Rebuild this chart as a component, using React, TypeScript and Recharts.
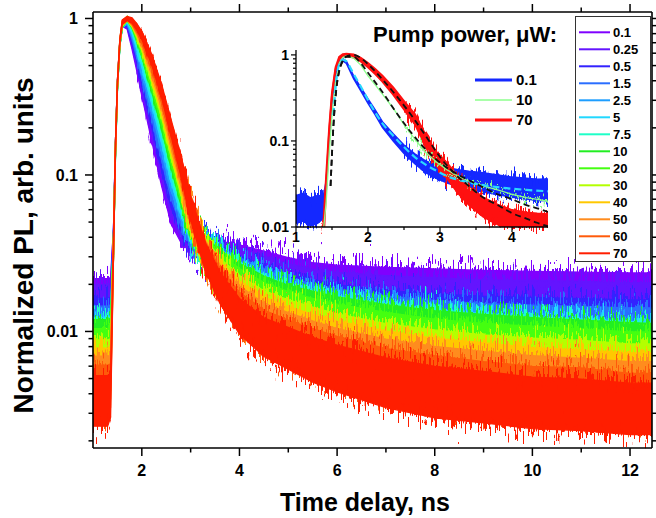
import { ComposedChart, Area, Line, XAxis, YAxis } from 'recharts'

const FONT = '"Liberation Sans", Arial, Helvetica, sans-serif'

// time grid of the main panel (ns)
const T = [1.0, 1.15, 1.3, 1.36, 1.42, 1.46, 1.5, 1.55, 1.6, 1.7, 1.8, 1.9, 2.0, 2.2, 2.4, 2.6, 2.8, 3.0, 3.3, 3.6, 4.0, 4.5, 5.0, 5.5, 6.0, 7.0, 8.0, 9.0, 10.0, 11.0, 12.0, 12.45]

// noise band: ratio of the band edge to the trace
const SPREAD = [1.45, 1.45, 1.45, 1.38, 1.15, 1.08, 1.05, 1.03, 1.03, 1.03, 1.04, 1.05, 1.06, 1.08, 1.1, 1.13, 1.16, 1.19, 1.23, 1.26, 1.3, 1.33, 1.36, 1.39, 1.41, 1.44, 1.46, 1.46, 1.46, 1.46, 1.46, 1.46]

// normalized PL traces per pump power (uW)
const pl0_1 = [0.015, 0.015, 0.015, 0.016, 0.04, 0.15, 0.38, 0.7, 0.92, 0.88, 0.66, 0.48, 0.34, 0.18, 0.095, 0.055, 0.043, 0.038, 0.033, 0.03, 0.0275, 0.0245, 0.0218, 0.0198, 0.0188, 0.0178, 0.0172, 0.0168, 0.0166, 0.0164, 0.0162, 0.0162]
const pl0_25 = [0.0137, 0.0137, 0.0137, 0.0147, 0.04, 0.15, 0.38, 0.7, 0.92, 0.9, 0.69, 0.51, 0.37, 0.2, 0.108, 0.062, 0.047, 0.039, 0.033, 0.0294, 0.026, 0.0228, 0.0199, 0.018, 0.0169, 0.0158, 0.0151, 0.0146, 0.0145, 0.0143, 0.014, 0.014]
const pl0_5 = [0.0112, 0.0112, 0.0112, 0.012, 0.039, 0.15, 0.37, 0.7, 0.91, 0.92, 0.72, 0.55, 0.4, 0.22, 0.122, 0.07, 0.051, 0.041, 0.033, 0.0284, 0.0235, 0.0198, 0.017, 0.0153, 0.0141, 0.0127, 0.0119, 0.0115, 0.0113, 0.0111, 0.0109, 0.0109]
const pl1_5 = [0.01, 0.01, 0.01, 0.0107, 0.038, 0.145, 0.37, 0.69, 0.91, 0.94, 0.76, 0.58, 0.44, 0.25, 0.139, 0.08, 0.055, 0.042, 0.033, 0.0276, 0.0228, 0.019, 0.0162, 0.0145, 0.0132, 0.0117, 0.0108, 0.0103, 0.0101, 0.0099, 0.0097, 0.0097]
const pl2_5 = [0.0086, 0.0086, 0.0086, 0.0092, 0.037, 0.145, 0.37, 0.69, 0.9, 0.95, 0.79, 0.62, 0.48, 0.28, 0.157, 0.09, 0.06, 0.044, 0.033, 0.0268, 0.0216, 0.0176, 0.015, 0.0134, 0.0121, 0.0106, 0.0095, 0.009, 0.0086, 0.0083, 0.008, 0.0079]
const pl5 = [0.0084, 0.0084, 0.0084, 0.009, 0.036, 0.14, 0.36, 0.69, 0.9, 0.97, 0.83, 0.66, 0.52, 0.31, 0.178, 0.102, 0.065, 0.045, 0.033, 0.0265, 0.0212, 0.0172, 0.0146, 0.0131, 0.0119, 0.0104, 0.0094, 0.0089, 0.0085, 0.0082, 0.0079, 0.0078]
const pl7_5 = [0.0083, 0.0083, 0.0083, 0.0089, 0.035, 0.14, 0.36, 0.68, 0.9, 0.99, 0.87, 0.7, 0.56, 0.34, 0.199, 0.113, 0.07, 0.047, 0.033, 0.0262, 0.021, 0.017, 0.0145, 0.013, 0.0118, 0.0103, 0.0093, 0.0088, 0.0084, 0.0081, 0.0078, 0.0077]
const pl10 = [0.0082, 0.0082, 0.0082, 0.0088, 0.035, 0.14, 0.36, 0.68, 0.9, 1.0, 0.9, 0.74, 0.6, 0.37, 0.22, 0.125, 0.075, 0.048, 0.033, 0.026, 0.021, 0.017, 0.0145, 0.013, 0.0118, 0.0103, 0.0093, 0.0088, 0.0084, 0.0081, 0.0078, 0.0077]
const pl20 = [0.0072, 0.0072, 0.0072, 0.0077, 0.035, 0.145, 0.37, 0.69, 0.91, 1.0, 0.91, 0.76, 0.62, 0.39, 0.236, 0.134, 0.08, 0.05, 0.0325, 0.0248, 0.0194, 0.0155, 0.0132, 0.0117, 0.0106, 0.0092, 0.0082, 0.0077, 0.0074, 0.0071, 0.0068, 0.0068]
const pl30 = [0.0061, 0.0061, 0.0061, 0.0065, 0.035, 0.145, 0.37, 0.7, 0.92, 1.0, 0.92, 0.79, 0.66, 0.42, 0.259, 0.147, 0.087, 0.052, 0.032, 0.0233, 0.0175, 0.0137, 0.0117, 0.0103, 0.0092, 0.0078, 0.007, 0.0065, 0.0062, 0.006, 0.0057, 0.0057]
const pl40 = [0.0054, 0.0054, 0.0054, 0.0058, 0.035, 0.15, 0.37, 0.71, 0.93, 1.0, 0.93, 0.81, 0.68, 0.45, 0.277, 0.158, 0.093, 0.054, 0.0315, 0.0222, 0.0162, 0.0125, 0.0106, 0.0093, 0.0083, 0.007, 0.0062, 0.0058, 0.0054, 0.0052, 0.005, 0.005]
const pl50 = [0.0048, 0.0048, 0.0048, 0.0051, 0.035, 0.15, 0.38, 0.71, 0.94, 1.0, 0.94, 0.83, 0.71, 0.48, 0.297, 0.17, 0.099, 0.057, 0.031, 0.0212, 0.015, 0.0114, 0.0097, 0.0084, 0.0074, 0.0062, 0.0055, 0.0051, 0.0048, 0.0046, 0.0044, 0.0044]
const pl60 = [0.0042, 0.0042, 0.0042, 0.0045, 0.035, 0.15, 0.38, 0.72, 0.94, 1.0, 0.95, 0.85, 0.74, 0.51, 0.322, 0.184, 0.107, 0.059, 0.0305, 0.0201, 0.0137, 0.0103, 0.0087, 0.0075, 0.0066, 0.0054, 0.0048, 0.0044, 0.0041, 0.004, 0.0037, 0.0037]
const pl70 = [0.0036, 0.0036, 0.0036, 0.0039, 0.035, 0.15, 0.38, 0.72, 0.95, 1.0, 0.97, 0.88, 0.78, 0.55, 0.35, 0.2, 0.115, 0.062, 0.03, 0.019, 0.0125, 0.0092, 0.0078, 0.0066, 0.0058, 0.0047, 0.0041, 0.0038, 0.0035, 0.0034, 0.0032, 0.0032]

const POWERS = ['0.1', '0.25', '0.5', '1.5', '2.5', '5', '7.5', '10', '20', '30', '40', '50', '60', '70']
const TRACES = [pl0_1, pl0_25, pl0_5, pl1_5, pl2_5, pl5, pl7_5, pl10, pl20, pl30, pl40, pl50, pl60, pl70]
const COLORS = ['#8000ff', '#6414ff', '#3322ff', '#2a6eff', '#1e9eff', '#22d8ff', '#1effc8', '#22ee22', '#44ff10', '#b4ff00', '#ffc800', '#ff8c1e', '#ff5a0a', '#ff1e00']

const X_TICKS = [2, 3, 4, 5, 6, 7, 8, 9, 10, 11, 12]
const X_MAJOR = [2, 4, 6, 8, 10, 12]
const Y_TICKS = [0.002, 0.003, 0.004, 0.005, 0.006, 0.007, 0.008, 0.009, 0.01, 0.02, 0.03, 0.04, 0.05, 0.06, 0.07, 0.08, 0.09, 0.1, 0.2, 0.3, 0.4, 0.5, 0.6, 0.7, 0.8, 0.9, 1]
const Y_MAJOR = [0.01, 0.1, 1]

// inset: three powers plus fits
const TI = [1.0, 1.1, 1.2, 1.3, 1.38, 1.42, 1.46, 1.5, 1.55, 1.6, 1.65, 1.7, 1.8, 1.9, 2.0, 2.1, 2.2, 2.35, 2.5, 2.65, 2.8, 2.95, 3.1, 3.25, 3.4, 3.6, 3.8, 4.0, 4.2, 4.35, 4.5]
const SPREAD_IN = [1.45, 1.45, 1.45, 1.45, 1.35, 1.15, 1.06, 1.04, 1.03, 1.03, 1.03, 1.03, 1.04, 1.05, 1.06, 1.07, 1.08, 1.1, 1.12, 1.14, 1.17, 1.2, 1.23, 1.25, 1.27, 1.29, 1.3, 1.31, 1.32, 1.33, 1.34]
const in0_1 = [0.016, 0.017, 0.015, 0.016, 0.017, 0.03, 0.1, 0.3, 0.6, 0.82, 0.88, 0.82, 0.55, 0.4, 0.29, 0.215, 0.155, 0.11, 0.08, 0.062, 0.05, 0.044, 0.04, 0.037, 0.035, 0.033, 0.031, 0.029, 0.028, 0.027, 0.027]
const in10 = [0.008, 0.008, 0.008, 0.008, 0.009, 0.02, 0.07, 0.2, 0.5, 0.8, 0.93, 0.98, 0.92, 0.76, 0.57, 0.45, 0.35, 0.24, 0.155, 0.105, 0.074, 0.057, 0.046, 0.039, 0.034, 0.03, 0.027, 0.024, 0.022, 0.021, 0.02]
const in70 = [0.005, 0.005, 0.005, 0.005, 0.008, 0.035, 0.13, 0.35, 0.7, 0.92, 0.99, 1.0, 0.97, 0.88, 0.76, 0.64, 0.53, 0.38, 0.26, 0.18, 0.1, 0.062, 0.045, 0.031, 0.023, 0.017, 0.014, 0.012, 0.0112, 0.0108, 0.0105]

const FIT01_T = [1.52, 1.56, 1.6, 1.65, 1.7, 1.8, 1.9, 2.0, 2.2, 2.35, 2.5, 2.65, 2.8, 2.95, 3.1, 3.4, 3.8, 4.2, 4.5]
const fit0_1 = [0.2, 0.5, 0.78, 0.88, 0.84, 0.6, 0.43, 0.3, 0.16, 0.115, 0.085, 0.065, 0.053, 0.045, 0.039, 0.033, 0.029, 0.027, 0.026]
const FIT_T = [1.48, 1.52, 1.56, 1.6, 1.65, 1.7, 1.8, 1.9, 2.0, 2.2, 2.4, 2.6, 2.8, 3.0, 3.2, 3.4, 3.6, 3.8, 4.0, 4.2, 4.35, 4.5]
const fit10 = [0.03, 0.15, 0.4, 0.65, 0.85, 0.95, 0.95, 0.8, 0.62, 0.37, 0.21, 0.125, 0.08, 0.056, 0.043, 0.035, 0.029, 0.024, 0.021, 0.018, 0.0165, 0.015]
const fit70 = [0.03, 0.15, 0.4, 0.65, 0.85, 0.96, 1.0, 0.92, 0.78, 0.52, 0.33, 0.2, 0.115, 0.065, 0.042, 0.03, 0.022, 0.018, 0.0145, 0.0125, 0.0112, 0.0102]

const IN_X_TICKS = [1, 1.5, 2, 2.5, 3, 3.5, 4]
const IN_X_MAJOR = [1, 2, 3, 4]
const IN_Y_TICKS = [0.01, 0.02, 0.03, 0.04, 0.05, 0.06, 0.07, 0.08, 0.09, 0.1, 0.2, 0.3, 0.4, 0.5, 0.6, 0.7, 0.8, 0.9, 1]

const isIn = (list: number[], v: number) => list.some(m => Math.abs(m - v) < m * 1e-6)

// noisy parts of the traces (before the rise and the slow tail) get a jagged edge filter
const noisyMain = (i: number) => i <= 3 || i >= 16
const noisyDecay = (i: number) => i >= 11 && i <= 17
const noisyInset = (i: number) => i <= 4 || i >= 18

const mainData = T.map((t, i) => {
  const row: Record<string, number | number[] | null> = { t }
  TRACES.forEach((s, k) => {
    const band = [s[i] / SPREAD[i], s[i] * SPREAD[i]]
    row['r' + k] = band
    row['q' + k] = noisyMain(i) ? band : null
    row['m' + k] = noisyDecay(i) ? band : null
  })
  return row
})

const insetData = TI.map((t, i) => {
  const blue = [in0_1[i] / SPREAD_IN[i], in0_1[i] * SPREAD_IN[i]]
  const red = [in70[i] / SPREAD_IN[i], in70[i] * SPREAD_IN[i]]
  return {
    t,
    blue,
    red,
    green: in10[i],
    qBlue: noisyInset(i) ? blue : null,
    qRed: noisyInset(i) ? red : null,
    qGreen: noisyInset(i) ? in10[i] : null,
  }
})
const fit01Data = FIT01_T.map((t, i) => ({ t, v: fit0_1[i] }))
const fit10Data = FIT_T.map((t, i) => ({ t, v: fit10[i] }))
const fit70Data = FIT_T.map((t, i) => ({ t, v: fit70[i] }))

function BottomTick(props: any) {
  const { x, y, payload } = props
  const major = isIn(X_MAJOR, payload.value)
  return (
    <g>
      <line x1={x} x2={x} y1={y} y2={y + (major ? 8 : 4.5)} stroke="#000" strokeWidth={1.5} />
      {major && (
        <text x={x} y={y + 28} textAnchor="middle" fontSize={16} fontWeight="bold" fontFamily={FONT} fill="#000">
          {payload.value}
        </text>
      )}
    </g>
  )
}

function TopTick(props: any) {
  const { x, y, payload } = props
  const major = isIn(X_MAJOR, payload.value)
  return <line x1={x} x2={x} y1={y} y2={y - (major ? 8 : 4.5)} stroke="#000" strokeWidth={1.5} />
}

function LeftTick(props: any) {
  const { x, y, payload } = props
  const major = isIn(Y_MAJOR, payload.value)
  return (
    <g>
      <line x1={x} x2={x - (major ? 8 : 4.5)} y1={y} y2={y} stroke="#000" strokeWidth={1.5} />
      {major && (
        <text x={x - 15} y={y} dy="0.36em" textAnchor="end" fontSize={16} fontWeight="bold" fontFamily={FONT} fill="#000">
          {payload.value}
        </text>
      )}
    </g>
  )
}

function RightTick(props: any) {
  const { x, y, payload } = props
  const major = isIn(Y_MAJOR, payload.value)
  return <line x1={x} x2={x + (major ? 8 : 4.5)} y1={y} y2={y} stroke="#000" strokeWidth={1.5} />
}

function InsetBottomTick(props: any) {
  const { x, y, payload } = props
  const major = isIn(IN_X_MAJOR, payload.value)
  return (
    <g>
      <line x1={x} x2={x} y1={y} y2={y + (major ? 5 : 3)} stroke="#000" strokeWidth={1.2} />
      {major && (
        <text x={x} y={y + 15} textAnchor="middle" fontSize={14} fontWeight="bold" fontFamily={FONT} fill="#000">
          {payload.value}
        </text>
      )}
    </g>
  )
}

function InsetLeftTick(props: any) {
  const { x, y, payload } = props
  const major = isIn([0.01, 0.1, 1], payload.value)
  return (
    <g>
      <line x1={x} x2={x - (major ? 5 : 3)} y1={y} y2={y} stroke="#000" strokeWidth={1.2} />
      {major && (
        <text x={x - 7} y={y} dy="0.36em" textAnchor="end" fontSize={14} fontWeight="bold" fontFamily={FONT} fill="#000">
          {payload.value}
        </text>
      )}
    </g>
  )
}

function JagFilter({ id, seed, scale }: { id: string; seed: number; scale: number }) {
  return (
    <filter id={id} x={-50} y={-50} width={800} height={650} filterUnits="userSpaceOnUse" colorInterpolationFilters="sRGB">
      <feTurbulence type="fractalNoise" baseFrequency="0.6 0.06" numOctaves={2} seed={seed} result="n" />
      <feColorMatrix in="n" type="matrix" values="0 0 0 0 0.5  0 1 0 0 0  0 0 0 0 0  0 0 0 0 1" result="m" />
      <feDisplacementMap in="SourceGraphic" in2="m" scale={scale} xChannelSelector="R" yChannelSelector="G" />
    </filter>
  )
}

const axisLine = { stroke: '#000', strokeWidth: 1.6 }
const css =
  POWERS.map((_, k) => `.jag${k}{filter:url(#jag${k})}.jagd${k}{filter:url(#jagd${k})}`).join('') +
  '.jagIn{filter:url(#jagIn)}.jagInG{filter:url(#jagInG)}'

export default function App() {
  return (
    <div style={{ position: 'absolute', left: 0, top: 0, width: 656, height: 518, background: '#fff', fontFamily: FONT }}>
      <style>{css}</style>
      <svg width={0} height={0} style={{ position: 'absolute' }}>
        <defs>
          {POWERS.map((_, k) => <JagFilter key={'t' + k} id={'jag' + k} seed={k * 7 + 3} scale={60} />)}
          {POWERS.map((_, k) => <JagFilter key={'d' + k} id={'jagd' + k} seed={k * 5 + 11} scale={k < 4 ? 30 : 14} />)}
          <JagFilter id="jagIn" seed={41} scale={30} />
          <JagFilter id="jagInG" seed={57} scale={30} />
        </defs>
      </svg>

      <ComposedChart width={656} height={518} data={mainData} margin={{ top: 2, right: 0, bottom: 40, left: 33 }}>
        <XAxis xAxisId="b" dataKey="t" type="number" domain={[1, 12.45]} allowDataOverflow ticks={X_TICKS} interval={0}
          tickSize={0} tickMargin={0} tickLine={false} axisLine={axisLine} height={30} tick={(p: any) => <BottomTick {...p} />} />
        <XAxis xAxisId="top" orientation="top" dataKey="t" type="number" domain={[1, 12.45]} allowDataOverflow ticks={X_TICKS} interval={0}
          tickSize={0} tickMargin={0} tickLine={false} axisLine={axisLine} height={10} tick={(p: any) => <TopTick {...p} />} />
        <YAxis yAxisId="l" type="number" scale="log" domain={[0.0018, 1.1]} allowDataOverflow ticks={Y_TICKS} interval={0}
          tickSize={0} tickMargin={0} tickLine={false} axisLine={axisLine} width={60} tick={(p: any) => <LeftTick {...p} />} />
        <YAxis yAxisId="right" orientation="right" type="number" scale="log" domain={[0.0018, 1.1]} allowDataOverflow ticks={Y_TICKS} interval={0}
          tickSize={0} tickMargin={0} tickLine={false} axisLine={axisLine} width={4} tick={(p: any) => <RightTick {...p} />} />
        {TRACES.flatMap((_, k) => [
          <Area key={'r' + k} xAxisId="b" yAxisId="l" type="linear" dataKey={'r' + k} stroke={COLORS[k]} strokeWidth={1.3}
            fill={COLORS[k]} fillOpacity={1} dot={false} activeDot={false} isAnimationActive={false} />,
          <Area key={'m' + k} className={'jagd' + k} xAxisId="b" yAxisId="l" type="linear" dataKey={'m' + k} stroke={COLORS[k]} strokeWidth={1.3}
            fill={COLORS[k]} fillOpacity={1} dot={false} activeDot={false} isAnimationActive={false} />,
          <Area key={'q' + k} className={'jag' + k} xAxisId="b" yAxisId="l" type="linear" dataKey={'q' + k} stroke={COLORS[k]} strokeWidth={1.3}
            fill={COLORS[k]} fillOpacity={1} dot={false} activeDot={false} isAnimationActive={false} />,
        ])}
      </ComposedChart>

      <div style={{ position: 'absolute', left: 236, top: 30 }}>
        <ComposedChart width={330} height={230} data={insetData} margin={{ top: 20, right: 18, bottom: 8, left: 20 }}>
          <XAxis dataKey="t" type="number" domain={[1, 4.5]} allowDataOverflow ticks={IN_X_TICKS} interval={0}
            tickSize={0} tickMargin={0} tickLine={false} axisLine={{ stroke: '#000', strokeWidth: 1.3 }} height={25}
            tick={(p: any) => <InsetBottomTick {...p} />} />
          <YAxis type="number" scale="log" domain={[0.01, 1.14]} allowDataOverflow ticks={IN_Y_TICKS} interval={0}
            tickSize={0} tickMargin={0} tickLine={false} axisLine={{ stroke: '#000', strokeWidth: 1.3 }} width={40}
            tick={(p: any) => <InsetLeftTick {...p} />} />
          <Area type="linear" dataKey="blue" stroke="#1428ff" strokeWidth={1.5} fill="#1428ff" fillOpacity={1} dot={false} activeDot={false} isAnimationActive={false} />
          <Area type="linear" dataKey="qBlue" className="jagIn" stroke="#1428ff" strokeWidth={1.5} fill="#1428ff" fillOpacity={1} dot={false} activeDot={false} isAnimationActive={false} />
          <Line type="linear" dataKey="green" stroke="#8cff8c" strokeWidth={1.3} dot={false} activeDot={false} isAnimationActive={false} />
          <Line type="linear" dataKey="qGreen" className="jagInG" stroke="#8cff8c" strokeWidth={1.8} dot={false} activeDot={false} isAnimationActive={false} />
          <Area type="linear" dataKey="red" stroke="#ff1010" strokeWidth={2} fill="#ff1010" fillOpacity={1} dot={false} activeDot={false} isAnimationActive={false} />
          <Area type="linear" dataKey="qRed" className="jagIn" stroke="#ff1010" strokeWidth={2} fill="#ff1010" fillOpacity={1} dot={false} activeDot={false} isAnimationActive={false} />
          <Line data={fit01Data} type="monotone" dataKey="v" stroke="#2ad8ff" strokeWidth={2.2} strokeDasharray="7 4" dot={false} activeDot={false} isAnimationActive={false} />
          <Line data={fit10Data} type="monotone" dataKey="v" stroke="#111" strokeWidth={1.8} strokeDasharray="6 4" dot={false} activeDot={false} isAnimationActive={false} />
          <Line data={fit70Data} type="monotone" dataKey="v" stroke="#111" strokeWidth={1.8} strokeDasharray="6 4" dot={false} activeDot={false} isAnimationActive={false} />
        </ComposedChart>
      </div>

      <svg width={656} height={518} style={{ position: 'absolute', left: 0, top: 0, pointerEvents: 'none' }} fontFamily={FONT}>
        <text x={365} y={511} textAnchor="middle" fontSize={25} fontWeight="bold" fill="#000">Time delay, ns</text>
        <text transform="translate(33 245.5) rotate(-90)" textAnchor="middle" fontSize={28} fontWeight="bold" fill="#000">
          Normalized PL, arb. units
        </text>

        <text x={373} y={42} fontSize={22} fontWeight="bold" fill="#000">Pump power, μW:</text>
        {[
          { label: '0.1', color: '#1428ff', w: 3 },
          { label: '10', color: '#8cff8c', w: 1.5 },
          { label: '70', color: '#ff1010', w: 3 },
        ].map((e, i) => (
          <g key={e.label}>
            <line x1={475} x2={512} y1={80 + i * 20} y2={80 + i * 20} stroke={e.color} strokeWidth={e.w} />
            <text x={516} y={80 + i * 20 + 5.4} fontSize={15} fontWeight="bold" fill="#000">{e.label}</text>
          </g>
        ))}

        <rect x={575.5} y={16.5} width={75} height={245} fill="#fff" stroke="#333" strokeWidth={1} />
        {POWERS.map((p, k) => (
          <g key={p}>
            <line x1={579} x2={610} y1={32.3 + k * 17} y2={32.3 + k * 17} stroke={COLORS[k]} strokeWidth={2} />
            <text x={613} y={32.3 + k * 17 + 4.7} fontSize={13} fontWeight="bold" fill="#000">{p}</text>
          </g>
        ))}
      </svg>
    </div>
  )
}
